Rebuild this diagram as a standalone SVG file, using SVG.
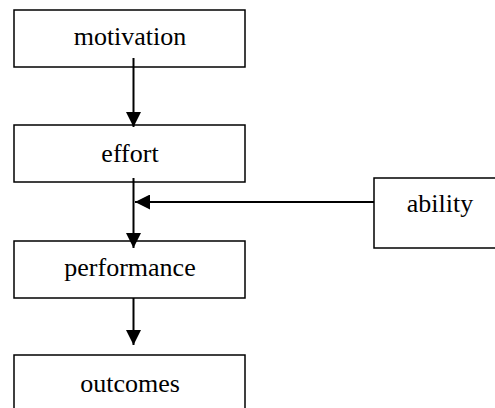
<svg xmlns="http://www.w3.org/2000/svg" width="495" height="408" viewBox="0 0 495 408">
<style>
.box{fill:#fff;stroke:#000;stroke-width:1.5}
.lbl{font-family:"Liberation Serif","Times New Roman",serif;font-size:26px;fill:#000;text-anchor:middle}
.conn{stroke:#000;stroke-width:2;fill:none;marker-end:url(#ah)}
</style>
<defs>
<marker id="ah" markerUnits="userSpaceOnUse" markerWidth="15" markerHeight="15" refX="15" refY="7.5" orient="auto">
<path d="M0,0 L15,7.5 L0,15 Z" fill="#000"/>
</marker>
</defs>
<rect width="495" height="408" fill="#fff"/>
<g id="motivation"><rect class="box" x="14" y="10" width="231" height="57"/><text class="lbl" x="130" y="45">motivation</text></g>
<g id="effort"><rect class="box" x="14" y="125" width="231" height="57"/><text class="lbl" x="130" y="161.5">effort</text></g>
<g id="performance"><rect class="box" x="14" y="241" width="231" height="57"/><text class="lbl" x="130" y="276">performance</text></g>
<g id="outcomes"><rect class="box" x="14" y="355" width="231" height="70"/><text class="lbl" x="130" y="391.5">outcomes</text></g>
<g id="ability"><rect class="box" x="374" y="178" width="130" height="70"/><text class="lbl" x="440" y="211.5">ability</text></g>
<g id="connectors">
<line class="conn" x1="133.5" y1="58" x2="133.5" y2="127"/>
<line class="conn" x1="133.5" y1="178" x2="133.5" y2="248"/>
<line class="conn" x1="374" y1="202" x2="135" y2="202"/>
<line class="conn" x1="133.5" y1="298" x2="133.5" y2="345"/>
</g>
</svg>
